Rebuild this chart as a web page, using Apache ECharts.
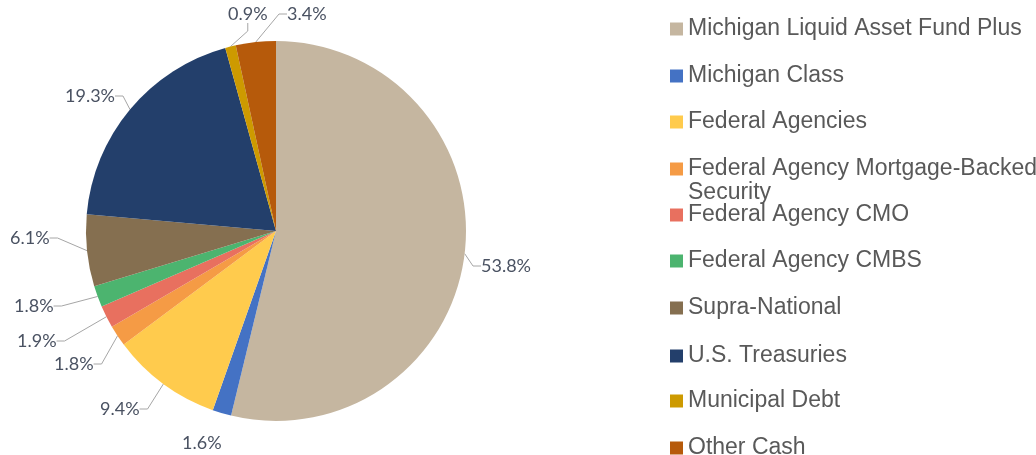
<!DOCTYPE html>
<html>
<head>
<meta charset="utf-8">
<script src="https://cdn.jsdelivr.net/npm/echarts@6/dist/echarts.min.js"></script>
<style>
html, body { margin: 0; padding: 0; background: #fff; }
#chart { width: 1036px; height: 455px; }
</style>
</head>
<body>
<div id="chart"></div>
<script>
const categories = [
    'Michigan Liquid Asset Fund Plus',
    'Michigan Class',
    'Federal Agencies',
    'Federal Agency Mortgage-Backed Security',
    'Federal Agency CMO',
    'Federal Agency CMBS',
    'Supra-National',
    'U.S. Treasuries',
    'Municipal Debt',
    'Other Cash',
]
const shares = [53.8, 1.6, 9.4, 1.8, 1.9, 1.8, 6.1, 19.3, 0.9, 3.4]
const colors = [
    '#C5B6A0', '#4472C4', '#FFCB4D', '#F59B45', '#E8705F',
    '#4CB46F', '#856F50', '#233F6B', '#CD9A00', '#B65A0B',
]

// where each percentage label sits (left edge, middle)
const labelPos = [
    [481, 266], [182, 443], [100, 409], [54, 364], [17, 341],
    [14, 306], [10, 238], [65, 96], [228, 14], [287, 14],
]
// centre line of every legend entry
const legendY = [26, 73, 119, 166, 212, 258, 305, 353, 398, 445]

const chart = echarts.init(document.getElementById('chart'), null, { renderer: 'canvas' })

const legends = categories.map((name, i) => ({
    orient: 'vertical',
    left: 665,
    top: legendY[i] - 2 - (i == 3 ? 36 : 12),
    itemWidth: 13,
    itemHeight: 13,
    icon: 'rect',
    selectedMode: false,
    data: [name],
    formatter: n => n == categories[3] ? '\nFederal Agency Mortgage-Backed\nSecurity' : n,
    textStyle: {
        fontFamily: 'Liberation Sans',
        fontSize: 23,
        lineHeight: 24,
        color: '#595959',
    },
}))

const option = {
    backgroundColor: '#fff',
    animation: false,
    legend: legends,
    series: [
        {
            type: 'pie',
            center: [276, 231],
            radius: 190,
            startAngle: 90,
            clockwise: true,
            data: categories.map((name, i) => ({
                name,
                value: shares[i],
                itemStyle: { color: colors[i] },
                labelLine: { show: i != 1 },
            })),
            itemStyle: { borderWidth: 0 },
            label: {
                show: true,
                position: 'outside',
                formatter: p => p.value.toFixed(1) + '%',
                fontFamily: 'Lato',
                fontSize: 18,
                color: '#4a5262',
            },
            labelLine: {
                show: true,
                length: 8,
                length2: 8,
                lineStyle: { color: '#A6A6A6', width: 1 },
            },
            labelLayout: function (params) {
                const p = labelPos[params.dataIndex]
                return { x: p[0], y: p[1], align: 'left', verticalAlign: 'middle' }
            },
        },
    ],
}
chart.setOption(option)
</script>
</body>
</html>
